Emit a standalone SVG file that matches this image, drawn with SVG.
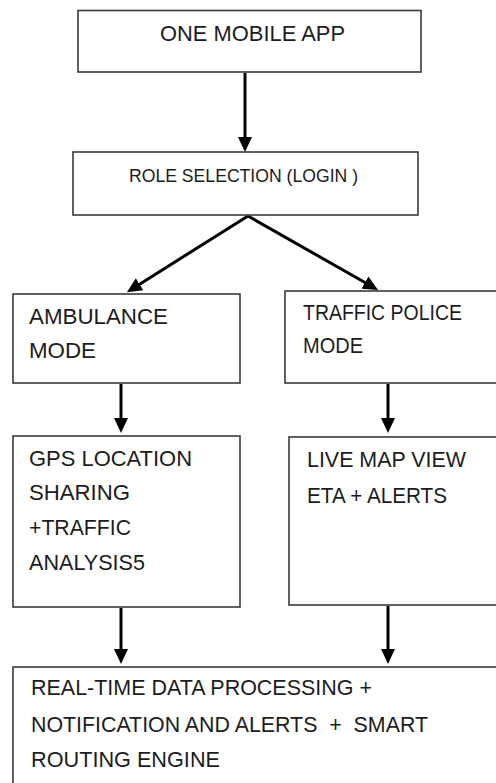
<svg xmlns="http://www.w3.org/2000/svg" width="496" height="783" viewBox="0 0 496 783">
  <style>
    .box { fill: #ffffff; stroke: #3a3a3a; stroke-width: 1.6; }
    .lbl { font-family: "Liberation Sans", Arial, sans-serif; font-size: 21.5px; fill: #1c1c1c; }
    .sm { font-size: 18.5px; }
    .link { stroke: #000000; stroke-width: 3; fill: none; marker-end: url(#head); }
  </style>
  <defs>
    <marker id="head" markerUnits="userSpaceOnUse" markerWidth="15" markerHeight="15" viewBox="0 0 15 15" refX="6" refY="7.5" orient="auto">
      <path d="M0,0.5 L15,7.5 L0,14.5 z" fill="#000000"/>
    </marker>
  </defs>
  <rect width="496" height="783" fill="#ffffff"/>

  <g id="connectors">
    <line class="link" x1="245" y1="73" x2="245" y2="143"/>
    <line class="link" x1="248" y1="216" x2="134.5" y2="287.4"/>
    <line class="link" x1="248" y1="216" x2="370.2" y2="285.5"/>
    <line class="link" x1="121" y1="384" x2="121" y2="424"/>
    <line class="link" x1="388" y1="384" x2="388" y2="424"/>
    <line class="link" x1="121" y1="608" x2="121" y2="655"/>
    <line class="link" x1="388" y1="606" x2="388" y2="655"/>
  </g>

  <g id="one-mobile-app">
    <rect class="box" x="78" y="10.5" width="343" height="61.5"/>
    <text class="lbl" x="160" y="41" textLength="185" lengthAdjust="spacingAndGlyphs">ONE MOBILE APP</text>
  </g>

  <g id="role-selection">
    <rect class="box" x="73" y="152" width="345" height="63"/>
    <text class="lbl sm" x="129" y="182" textLength="229" lengthAdjust="spacingAndGlyphs">ROLE SELECTION (LOGIN )</text>
  </g>

  <g id="ambulance-mode">
    <rect class="box" x="13" y="294" width="227" height="89"/>
    <text class="lbl" x="29" y="324" textLength="139" lengthAdjust="spacingAndGlyphs">AMBULANCE</text>
    <text class="lbl" x="29" y="358" textLength="67" lengthAdjust="spacingAndGlyphs">MODE</text>
  </g>

  <g id="traffic-police-mode">
    <rect class="box" x="285" y="291" width="220" height="92"/>
    <text class="lbl" x="303" y="320" textLength="159" lengthAdjust="spacingAndGlyphs">TRAFFIC POLICE</text>
    <text class="lbl" x="303" y="353" textLength="60" lengthAdjust="spacingAndGlyphs">MODE</text>
  </g>

  <g id="gps-location">
    <rect class="box" x="13" y="436" width="227" height="171"/>
    <text class="lbl" x="29" y="466" textLength="163" lengthAdjust="spacingAndGlyphs">GPS LOCATION</text>
    <text class="lbl" x="29" y="500" textLength="101" lengthAdjust="spacingAndGlyphs">SHARING</text>
    <text class="lbl" x="29" y="535" textLength="102" lengthAdjust="spacingAndGlyphs">+TRAFFIC</text>
    <text class="lbl" x="29" y="570" textLength="116" lengthAdjust="spacingAndGlyphs">ANALYSIS5</text>
  </g>

  <g id="live-map-view">
    <rect class="box" x="289" y="437" width="215" height="168"/>
    <text class="lbl" x="307" y="467" textLength="159" lengthAdjust="spacingAndGlyphs">LIVE MAP VIEW</text>
    <text class="lbl" x="307" y="503" textLength="140" lengthAdjust="spacingAndGlyphs">ETA + ALERTS</text>
  </g>

  <g id="realtime-processing">
    <rect class="box" x="13" y="667" width="495" height="130"/>
    <text class="lbl" x="31" y="695" textLength="341" lengthAdjust="spacingAndGlyphs">REAL-TIME DATA PROCESSING +</text>
    <text class="lbl" x="31" y="732" textLength="397" lengthAdjust="spacingAndGlyphs" xml:space="preserve">NOTIFICATION AND ALERTS  +  SMART</text>
    <text class="lbl" x="31" y="767" textLength="189" lengthAdjust="spacingAndGlyphs">ROUTING ENGINE</text>
  </g>
</svg>
